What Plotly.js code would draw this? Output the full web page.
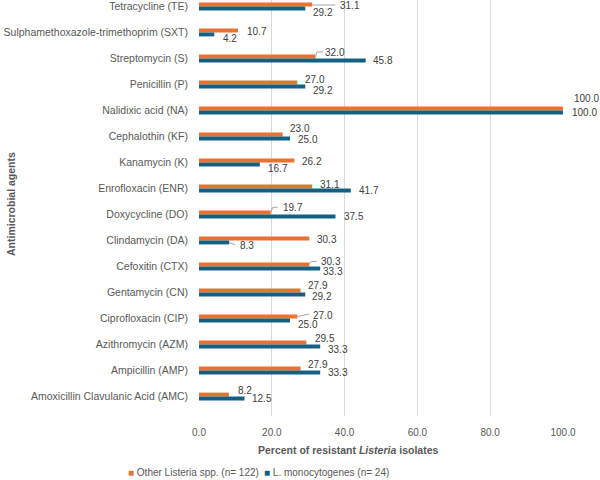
<!DOCTYPE html>
<html>
<head>
<meta charset="utf-8">
<script src="https://cdn.plot.ly/plotly-3.0.1.min.js"></script>
<style>
  html, body { margin: 0; padding: 0; background: #ffffff; }
  #chart { width: 600px; height: 480px; }
</style>
</head>
<body>
<div id="chart"></div>
<script>
// Antimicrobial resistance of Listeria isolates (%)
const agents = [
  "Tetracycline (TE)",
  "Sulphamethoxazole-trimethoprim (SXT)",
  "Streptomycin (S)",
  "Penicillin (P)",
  "Nalidixic acid (NA)",
  "Cephalothin (KF)",
  "Kanamycin (K)",
  "Enrofloxacin (ENR)",
  "Doxycycline (DO)",
  "Clindamycin (DA)",
  "Cefoxitin (CTX)",
  "Gentamycin (CN)",
  "Ciprofloxacin (CIP)",
  "Azithromycin (AZM)",
  "Ampicillin (AMP)",
  "Amoxicillin Clavulanic Acid (AMC)"
];
const otherListeria = [31.1, 10.7, 32.0, 27.0, 100.0, 23.0, 26.2, 31.1, 19.7, 30.3, 30.3, 27.9, 27.0, 29.5, 27.9, 8.2];
const monocytogenes = [29.2, 4.2, 45.8, 29.2, 100.0, 25.0, 16.7, 41.7, 37.5, 8.3, 33.3, 29.2, 25.0, 33.3, 33.3, 12.5];
const seriesNames = ["Other Listeria spp. (n= 122)", "L. monocytogenes (n= 24)"];
const xTicks = [0, 20, 40, 60, 80, 100];

// Styling
const COLORS = ["#E97132", "#156082"];
const TEXT = "#595959";
const LABEL = "#404040";
const FONT = "Liberation Sans, Arial, sans-serif";

// Plot box in pixels, used to place the free-standing titles and key
const PLOT = { left: 199, width: 364, bottom: 416, height: 416 };
const px2x = p => (p - PLOT.left) / PLOT.width;
const px2y = p => (PLOT.bottom - p) / PLOT.height;

// Hand-placed data label offsets in pixels: [right, down] from the bar end
const labelOffsetOther = [[28,1],[9,1],[10,-4],[8,-3.5],[11,-10],[7,-6],[8,1],[8,-2],[12,-5],[8,1],[12,-3],[7,-5],[16,-1.5],[9,-4],[7,-4.5],[9,-4.5]];
const labelOffsetMono  = [[8,4],[9,4],[7,0],[8,3.5],[9,0],[8,1],[8,4],[8,0],[8,0],[11,2.5],[3,3],[7,2],[8,4],[8,2.5],[8,0],[7,0]];
const barShift = [-2, 2];   // vertical pixel offset of each series inside its group

// Leader lines (pixel path relative to the bar end; [series, index, points with y down])
const leaders = [
  [0, 0, [[0,-1.5],[23,-1.5]]],
  [0, 2, [[0,-1.5],[1.5,-6.5],[7.5,-6.5]]],
  [0, 4, [[2,-3.5],[3,-12.5],[8,-12.5]]],
  [0, 8, [[0,-1.8],[2,-7.2],[7,-7.2]]],
  [0, 10, [[0,-2.5],[2,-5],[7.5,-5]]],
  [0, 12, [[0,-2],[12,-4.5]]],
  [1, 9, [[0,2.2],[6,4.2]]]
];

const series = [otherListeria, monocytogenes];

const traces = series.map((vals, s) => ({
  type: "bar",
  orientation: "h",
  name: seriesNames[s],
  x: vals,
  y: agents,
  marker: { color: COLORS[s], line: { width: 0 } },
  hoverinfo: "x+y+name"
}));

const annotations = [];
series.forEach((vals, s) => {
  const offs = s === 0 ? labelOffsetOther : labelOffsetMono;
  vals.forEach((v, i) => {
    annotations.push({
      x: v, y: agents[i], xref: "x", yref: "y",
      text: v.toFixed(1),
      showarrow: false,
      xanchor: "left", yanchor: "middle",
      xshift: offs[i][0] - 2,
      yshift: -(offs[i][1] + barShift[s]),
      font: { family: FONT, size: 10, color: LABEL }
    });
  });
});

// Axis titles
annotations.push({
  xref: "paper", yref: "paper",
  x: px2x(348), y: px2y(450),
  xanchor: "center", yanchor: "middle", showarrow: false,
  text: "<b>Percent of resistant <i>Listeria</i> isolates</b>",
  font: { family: FONT, size: 10.5, color: TEXT }
});
annotations.push({
  xref: "paper", yref: "paper",
  x: px2x(11), y: px2y(204),
  xanchor: "center", yanchor: "middle", showarrow: false, textangle: -90,
  text: "<b>Antimicrobial agents</b>",
  font: { family: FONT, size: 10.5, color: TEXT }
});

// Series key below the axis title
const keyLeft = [126, 262];
seriesNames.forEach((name, s) => {
  annotations.push({
    xref: "paper", yref: "paper",
    x: px2x(keyLeft[s]), y: px2y(472),
    xanchor: "left", yanchor: "middle", showarrow: false,
    text: "<span style='color:" + COLORS[s] + "'>■</span> " + name,
    font: { family: FONT, size: 10, color: TEXT }
  });
});

const shapes = leaders.map(([s, i, pts]) => {
  const v = series[s][i];
  const path = pts.map((p, k) => (k ? "L" : "M") + p[0] + "," + (-p[1])).join(" ");
  return {
    type: "path", layer: "above",
    xref: "x", yref: "y",
    xsizemode: "pixel", ysizemode: "pixel",
    xanchor: v, yanchor: agents[i],
    path: path,
    line: { color: "#a6a6a6", width: 1 }
  };
});

const layout = {
  width: 600, height: 480,
  margin: { l: 199, r: 37, t: 0, b: 64 },
  paper_bgcolor: "#ffffff", plot_bgcolor: "#ffffff",
  font: { family: FONT, size: 10.5, color: TEXT },
  barmode: "group",
  bargap: 0.7,
  bargroupgap: 0,
  showlegend: false,
  xaxis: {
    range: [0, 100],
    tickvals: xTicks,
    ticktext: xTicks.map(t => t.toFixed(1)),
    showgrid: true, gridcolor: "#d9d9d9", gridwidth: 1,
    zeroline: false, showline: false,
    ticks: "", ticklabelstandoff: 9,
    tickfont: { family: FONT, size: 10, color: TEXT },
    fixedrange: true
  },
  yaxis: {
    type: "category",
    categoryorder: "array", categoryarray: agents,
    range: [15.75, -0.25],
    showgrid: false, zeroline: false, showline: false,
    ticks: "", ticklabelstandoff: 10,
    tickfont: { family: FONT, size: 10.5, color: TEXT },
    fixedrange: true
  },
  annotations: annotations,
  shapes: shapes
};

Plotly.newPlot("chart", traces, layout, { displayModeBar: false, staticPlot: true });
</script>
</body>
</html>
